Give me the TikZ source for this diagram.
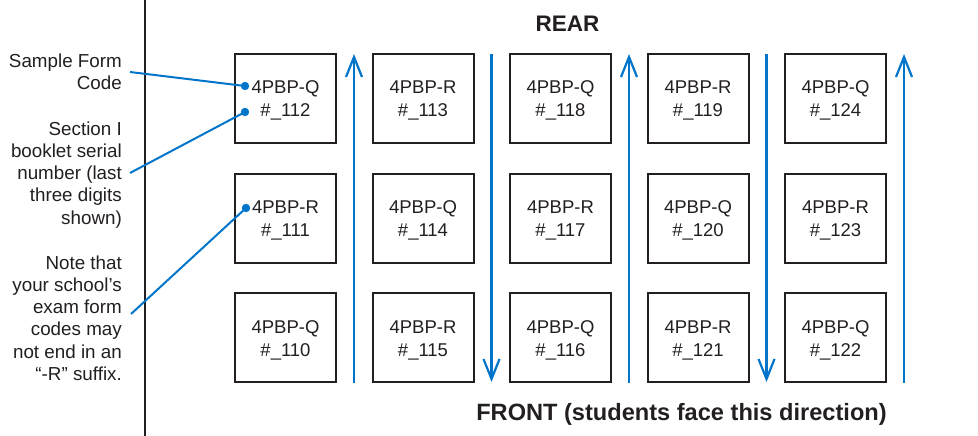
\documentclass[tikz,border=0pt]{standalone}
\usepackage{fontspec}
\setmainfont{Liberation Sans}
\usetikzlibrary{arrows.meta}
\definecolor{leadblue}{RGB}{0,117,201}
\definecolor{ink}{RGB}{35,31,32}
% two-line seat label: form code and booklet serial number
\newcommand\seatlabel[2]{\rule{0pt}{19pt}4PBP-#1\\\#\_#2\rule[-5pt]{0pt}{5pt}}
\begin{document}
\begin{tikzpicture}[x=1pt,y=-1pt,
  seat/.style={draw=ink, line width=2pt, minimum width=101pt, minimum height=89pt,
    inner sep=0pt, align=center, font=\fontsize{18.5}{23}\selectfont, text=ink},
  note/.style={anchor=north east, inner sep=0pt, align=right,
    font=\fontsize{18.8}{22.25}\selectfont, text=ink},
  heading/.style={anchor=base, inner sep=0pt, text=ink},
  lead/.style={leadblue, line width=2pt},
  flow/.style={leadblue, line width=2.2pt, -{Straight Barb[length=20pt,width=16pt]}},
  spot/.style={fill=leadblue}]
\useasboundingbox (0,0) rectangle (978,436);

% divider between the key and the room plan
\coordinate (divtop) at (145,0);
\coordinate (divbot) at (145,436);
\draw[ink, line width=2.4pt] (divtop) -- (divbot);

% headings
\node[heading, font=\fontsize{22.5}{26}\selectfont\bfseries] (rear) at (567.5,32) {REAR};
\node[heading, font=\fontsize{23.6}{28}\selectfont\bfseries] (front) at (681.5,420)
  {FRONT (students face this direction)};

% seats: row 1 (rear) to row 3 (front)
\node[seat] (s11) at (285.5,98.5) {\seatlabel{Q}{112}};
\node[seat] (s12) at (423,98.5)   {\seatlabel{R}{113}};
\node[seat] (s13) at (560.5,98.5) {\seatlabel{Q}{118}};
\node[seat] (s14) at (698,98.5)   {\seatlabel{R}{119}};
\node[seat] (s15) at (835.5,98.5) {\seatlabel{Q}{124}};

\node[seat] (s21) at (285.5,218) {\seatlabel{R}{111}};
\node[seat] (s22) at (423,218)   {\seatlabel{Q}{114}};
\node[seat] (s23) at (560.5,218) {\seatlabel{R}{117}};
\node[seat] (s24) at (698,218)   {\seatlabel{Q}{120}};
\node[seat] (s25) at (835.5,218) {\seatlabel{R}{123}};

\node[seat] (s31) at (285.5,337.5) {\seatlabel{Q}{110}};
\node[seat] (s32) at (423,337.5)   {\seatlabel{R}{115}};
\node[seat] (s33) at (560.5,337.5) {\seatlabel{Q}{116}};
\node[seat] (s34) at (698,337.5)   {\seatlabel{R}{121}};
\node[seat] (s35) at (835.5,337.5) {\seatlabel{Q}{122}};

% distribution order along the aisles
\foreach \x/\a/\b in {354/383/54, 491.5/54/382, 629/383/54, 766.5/54/382, 904/383/54} {
  \coordinate (from) at (\x,\a);
  \coordinate (to) at (\x,\b);
  \draw[flow] (from) -- (to);
}

% key notes
\node[note] (keycode) at (122,52) {\rule{0pt}{15pt}Sample Form\\Code};
\node[note] (keyserial) at (122,120)
  {\rule{0pt}{15pt}Section I\\booklet serial\\number (last\\three digits\\shown)};
\node[note] (keysuffix) at (122,254)
  {\rule{0pt}{15pt}Note that\\your school’s\\exam form\\codes may\\not end in an\\“-R” suffix.};

% leader lines from the notes to the sample seats
\coordinate (codestart) at (130,72);
\coordinate (serialstart) at (130,173);
\coordinate (suffixstart) at (131,314);
\coordinate (codedot) at (245,86);
\coordinate (serialdot) at (245,112);
\coordinate (suffixdot) at (246,208);

\draw[lead] (codestart) -- (codedot);
\draw[lead] (serialstart) -- (serialdot);
\draw[lead] (suffixstart) -- (suffixdot);
\fill[spot] (codedot) circle[radius=4.2pt];
\fill[spot] (serialdot) circle[radius=4.2pt];
\fill[spot] (suffixdot) circle[radius=4.2pt];
\end{tikzpicture}
\end{document}
